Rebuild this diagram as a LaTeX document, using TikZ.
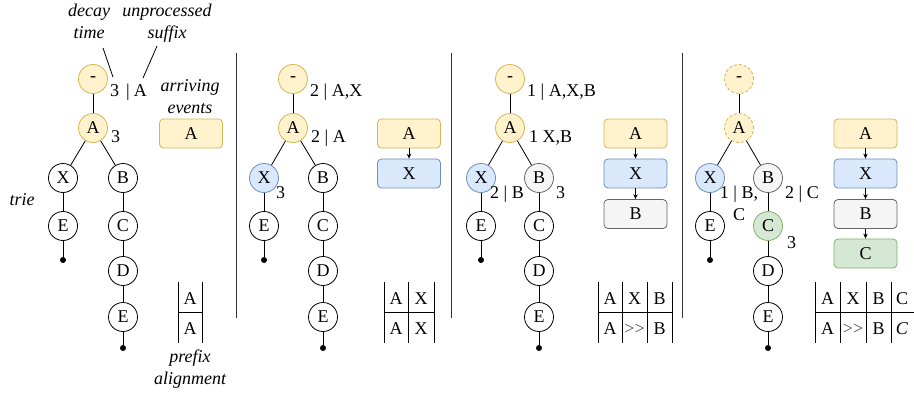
\documentclass[tikz,border=0pt]{standalone}
\usepackage{fontspec}
\setmainfont{Liberation Serif}
\usetikzlibrary{arrows.meta}

\definecolor{yfill}{HTML}{FFF2CC}
\definecolor{ydraw}{HTML}{D6B656}
\definecolor{bfill}{HTML}{DAE8FC}
\definecolor{bdraw}{HTML}{6C8EBF}
\definecolor{gfill}{HTML}{F5F5F5}
\definecolor{gdraw}{HTML}{666666}
\definecolor{cfill}{HTML}{D5E8D4}
\definecolor{cdraw}{HTML}{82B366}

\begin{document}
\begin{tikzpicture}[x=1pt,y=-1pt,
  every node/.style={font=\fontsize{18}{22}\selectfont, inner sep=0pt},
  tnode/.style={circle, draw=black, line width=0.8pt, minimum size=29pt, fill=white},
  ynode/.style={tnode, fill=yfill, draw=ydraw},
  yghost/.style={ynode, dash pattern=on 3pt off 2pt},
  bnode/.style={tnode, fill=bfill, draw=bdraw},
  gnode/.style={tnode, fill=gfill, draw=gdraw},
  cnode/.style={tnode, fill=cfill, draw=cdraw},
  leaf/.style={circle, fill=black, minimum size=6pt},
  evbox/.style={rectangle, rounded corners=4pt, minimum width=63pt, minimum height=29pt, line width=0.8pt},
  yevent/.style={evbox, fill=yfill, draw=ydraw},
  bevent/.style={evbox, fill=bfill, draw=bdraw},
  gevent/.style={evbox, fill=gfill, draw=gdraw},
  cevent/.style={evbox, fill=cfill, draw=cdraw},
  edge/.style={line width=0.8pt},
  flow/.style={-{Stealth[length=5pt,width=4.5pt]}, line width=0.8pt},
  lbl/.style={anchor=base west},
  note/.style={font=\fontsize{18}{22}\selectfont\itshape, align=center, anchor=base},
  cell/.style={anchor=base},
  skip/.style={cell, text=black!70},
  sep/.style={line width=1pt, black!80},
  grid/.style={line width=0.8pt}
]
\useasboundingbox (0,0) rectangle (914,394);

% ---------- panel separators ----------
\draw[sep] (236,53) -- (236,318);
\draw[sep] (451,53) -- (451,318);
\draw[sep] (682,53) -- (682,318);

% ---------- panel 1 ----------
\node[ynode] (r1) at (93,79) {-};
\node[ynode] (a1) at (93,128) {A};
\node[tnode] (x1) at (63,178) {X};
\node[tnode] (b1) at (123,178) {B};
\node[tnode] (xe1) at (63,226) {E};
\node[leaf] (xl1) at (63,260) {};
\node[tnode] (c1) at (123,226) {C};
\node[tnode] (d1) at (123,271) {D};
\node[tnode] (e1) at (123,317) {E};
\node[leaf] (el1) at (123,348) {};
\draw[edge] (r1) -- (a1);
\draw[edge] (a1) -- (x1);
\draw[edge] (a1) -- (b1);
\draw[edge] (x1) -- (xe1);
\draw[edge] (xe1) -- (xl1);
\draw[edge] (b1) -- (c1);
\draw[edge] (c1) -- (d1);
\draw[edge] (d1) -- (e1);
\draw[edge] (e1) -- (el1);

\node[lbl] (l1r) at (110,96) {3\hspace{7pt}|\hspace{4pt}A};
\node[lbl] (l1a) at (111,142) {3};

% two-line notes: the base anchor sits on the last line
\node[note] (decay) at (89,38) {decay\\time};
\node[note] (suffix) at (167,38) {unprocessed\\suffix};
\node[note] (arrive) at (190,113) {arriving\\events};
\node[note] (trie) at (22,205) {trie};
\node[note] (prefix) at (190,384) {prefix\\alignment};

\coordinate (decayfrom) at (103,48);
\coordinate (decayto) at (113,77);
\coordinate (suffixfrom) at (157,46);
\coordinate (suffixto) at (143,78);
\draw[edge] (decayfrom) -- (decayto);
\draw[edge] (suffixfrom) -- (suffixto);

\node[yevent] (ev1a) at (191,133.5) {A};

\draw[grid] (178,282) -- (178,343);
\draw[grid] (202,282) -- (202,343);
\draw[grid] (178,312.5) -- (202,312.5);
\node[cell] (t1a) at (190,304) {A};
\node[cell] (t1b) at (190,334) {A};

% ---------- panel 2 ----------
\node[ynode] (r2) at (293,79) {-};
\node[ynode] (a2) at (293,128) {A};
\node[bnode] (x2) at (264,178) {X};
\node[tnode] (b2) at (323,178) {B};
\node[tnode] (xe2) at (264,226) {E};
\node[leaf] (xl2) at (264,260) {};
\node[tnode] (c2) at (323,226) {C};
\node[tnode] (d2) at (323,271) {D};
\node[tnode] (e2) at (323,317) {E};
\node[leaf] (el2) at (323,348) {};
\draw[edge] (r2) -- (a2);
\draw[edge] (a2) -- (x2);
\draw[edge] (a2) -- (b2);
\draw[edge] (x2) -- (xe2);
\draw[edge] (xe2) -- (xl2);
\draw[edge] (b2) -- (c2);
\draw[edge] (c2) -- (d2);
\draw[edge] (d2) -- (e2);
\draw[edge] (e2) -- (el2);

\node[lbl] (l2r) at (310,96) {2 | A,X};
\node[lbl] (l2a) at (311,142) {2 | A};
\node[lbl] (l2x) at (276,198) {3};

\node[yevent] (ev2a) at (409,133.5) {A};
\node[bevent] (ev2x) at (409,173.5) {X};
\draw[flow] (ev2a) -- (ev2x);

\draw[grid] (384,282) -- (384,343);
\draw[grid] (408,282) -- (408,343);
\draw[grid] (434,282) -- (434,343);
\draw[grid] (384,312.5) -- (434,312.5);
\node[cell] (t2a) at (396,304) {A};
\node[cell] (t2b) at (421,304) {X};
\node[cell] (t2c) at (396,334) {A};
\node[cell] (t2d) at (421,334) {X};

% ---------- panel 3 ----------
\node[ynode] (r3) at (510,79) {-};
\node[ynode] (a3) at (510,128) {A};
\node[bnode] (x3) at (481,178) {X};
\node[gnode] (b3) at (539,178) {B};
\node[tnode] (xe3) at (481,226) {E};
\node[leaf] (xl3) at (481,260) {};
\node[tnode] (c3) at (539,226) {C};
\node[tnode] (d3) at (539,271) {D};
\node[tnode] (e3) at (539,317) {E};
\node[leaf] (el3) at (539,348) {};
\draw[edge] (r3) -- (a3);
\draw[edge] (a3) -- (x3);
\draw[edge] (a3) -- (b3);
\draw[edge] (x3) -- (xe3);
\draw[edge] (xe3) -- (xl3);
\draw[edge] (b3) -- (c3);
\draw[edge] (c3) -- (d3);
\draw[edge] (d3) -- (e3);
\draw[edge] (e3) -- (el3);

\node[lbl] (l3r) at (527,96) {1 | A,X,B};
\node[lbl] (l3a) at (529,142) {1 X,B};
\node[lbl] (l3x) at (490,198) {2 | B};
\node[lbl] (l3b) at (556,198) {3};

\node[yevent] (ev3a) at (635.5,133.5) {A};
\node[bevent] (ev3x) at (635.5,173.5) {X};
\node[gevent] (ev3b) at (635.5,214) {B};
\draw[flow] (ev3a) -- (ev3x);
\draw[flow] (ev3x) -- (ev3b);

\draw[grid] (598,282) -- (598,343);
\draw[grid] (622,282) -- (622,343);
\draw[grid] (647,282) -- (647,343);
\draw[grid] (672,282) -- (672,343);
\draw[grid] (598,312.5) -- (672,312.5);
\node[cell] (t3a) at (610,304) {A};
\node[cell] (t3b) at (634.5,304) {X};
\node[cell] (t3c) at (659.5,304) {B};
\node[cell] (t3d) at (610,334) {A};
\node[skip] (t3e) at (634.5,334) {>{}>};
\node[cell] (t3f) at (659.5,334) {B};

% ---------- panel 4 ----------
\node[yghost] (r4) at (739,79) {-};
\node[yghost] (a4) at (739,128) {A};
\node[bnode] (x4) at (710,178) {X};
\node[gnode] (b4) at (768,178) {B};
\node[tnode] (xe4) at (710,226) {E};
\node[leaf] (xl4) at (710,260) {};
\node[cnode] (c4) at (768,226) {C};
\node[tnode] (d4) at (768,271) {D};
\node[tnode] (e4) at (768,317) {E};
\node[leaf] (el4) at (768,348) {};
\draw[edge] (r4) -- (a4);
\draw[edge] (a4) -- (x4);
\draw[edge] (a4) -- (b4);
\draw[edge] (x4) -- (xe4);
\draw[edge] (xe4) -- (xl4);
\draw[edge] (b4) -- (c4);
\draw[edge] (c4) -- (d4);
\draw[edge] (d4) -- (e4);
\draw[edge] (e4) -- (el4);

\node[anchor=base, align=center] (l4x) at (739,220) {1 | B,\\C};
\node[lbl] (l4b) at (785,198) {2 | C};
\node[lbl] (l4c) at (787,248) {3};

\node[yevent] (ev4a) at (865.5,133.5) {A};
\node[bevent] (ev4x) at (865.5,173.5) {X};
\node[gevent] (ev4b) at (865.5,214) {B};
\node[cevent] (ev4c) at (865.5,253.5) {C};
\draw[flow] (ev4a) -- (ev4x);
\draw[flow] (ev4x) -- (ev4b);
\draw[flow] (ev4b) -- (ev4c);

\draw[grid] (815,282) -- (815,343);
\draw[grid] (840,282) -- (840,343);
\draw[grid] (866,282) -- (866,343);
\draw[grid] (891,282) -- (891,343);
\draw[grid] (815,312.5) -- (914,312.5);
\node[cell] (t4a) at (827.5,304) {A};
\node[cell] (t4b) at (853,304) {X};
\node[cell] (t4c) at (878.5,304) {B};
\node[cell] (t4d) at (902,304) {C};
\node[cell] (t4e) at (827.5,334) {A};
\node[skip] (t4f) at (853,334) {>{}>};
\node[cell] (t4g) at (878.5,334) {B};
\node[cell] (t4h) at (902,334) {\textit{C}};
\end{tikzpicture}
\end{document}
